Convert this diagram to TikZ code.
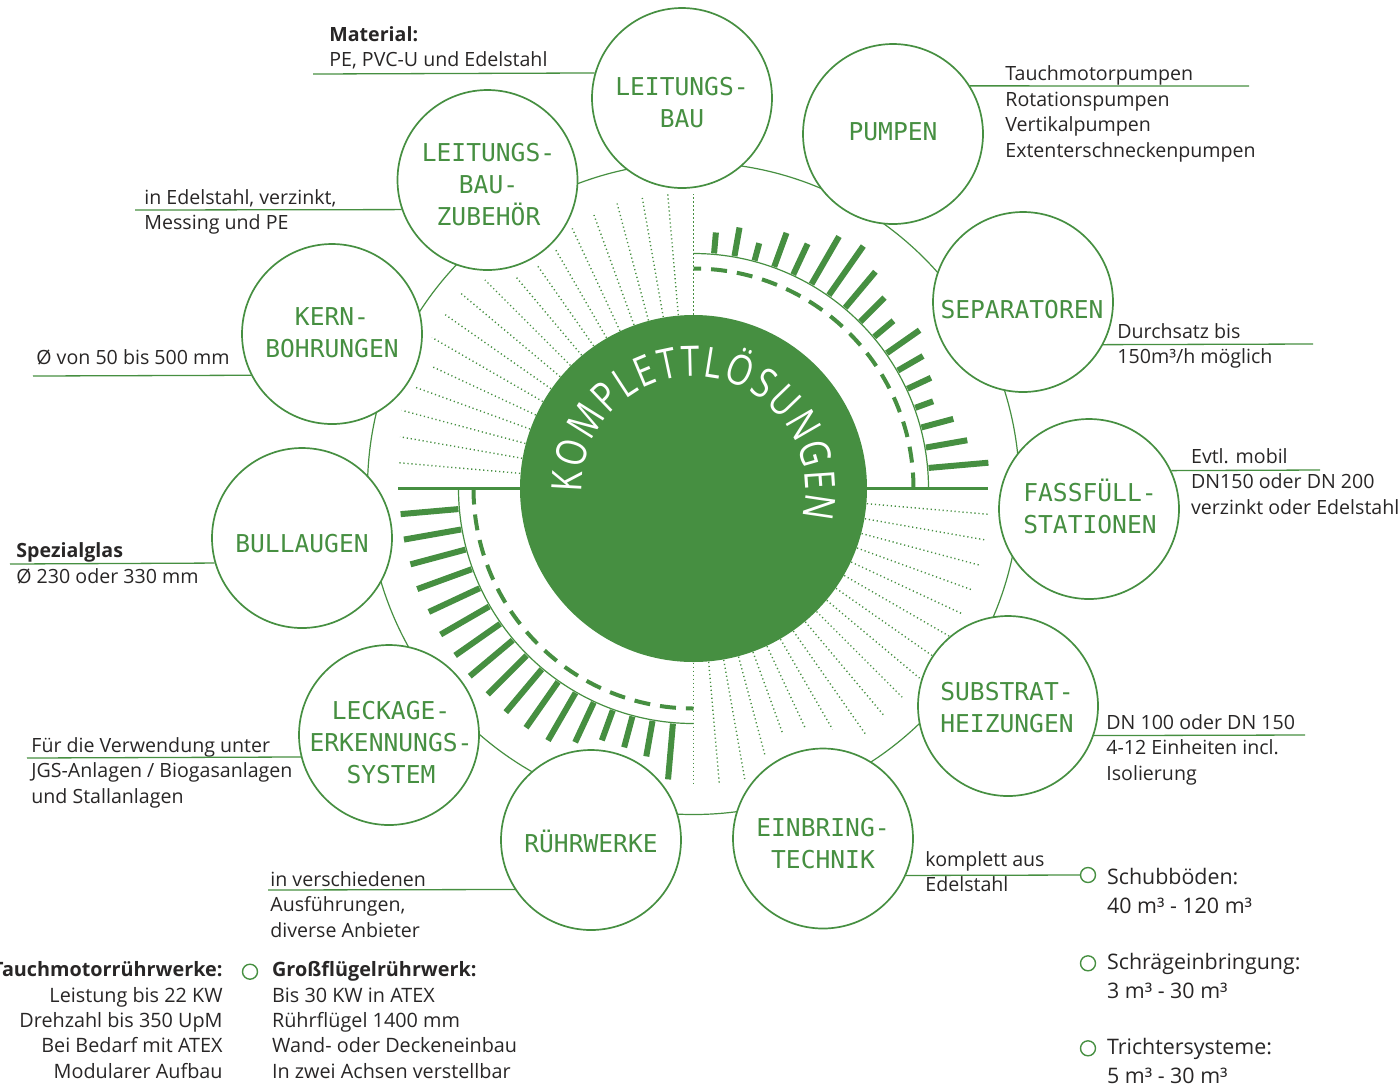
\documentclass[tikz,border=0pt]{standalone}
\usepackage{fontspec}
\setmainfont{Open Sans}
\newfontfamily\monofont{DejaVu Sans Mono}
\newfontfamily\arcfont[FakeStretch=0.8]{Open Sans}
\usetikzlibrary{calc,decorations.text}
\definecolor{kgreen}{RGB}{70,143,65}
\definecolor{ink}{RGB}{40,38,38}
\def\spoke[#1](#2)(#3:#4:#5){\draw[#1] ($(#2)+(#3:#4)$) -- ($(#2)+(#3:#5)$);}

\tikzset{
  sat/.style={circle, draw=kgreen, fill=white, line width=0.85pt, minimum size=90pt, inner sep=0pt},
  satlabel/.style={align=center, inner sep=0pt, text=kgreen, font=\monofont\fontsize{12.3}{16}\selectfont},
  lead/.style={draw=kgreen, line width=0.65pt},
  note/.style={anchor=base west, align=left, inner sep=0pt, text=ink, font=\fontsize{9.8}{12.75}\selectfont},
  bignote/.style={note, font=\fontsize{10.7}{14.5}\selectfont},
  bullet/.style={circle, draw=kgreen, line width=0.7pt, minimum size=7.5pt, inner sep=0pt},
  dotspoke/.style={kgreen, line width=0.7pt, dash pattern=on 0.6pt off 1.4pt},
  barspoke/.style={kgreen, line width=3pt},
}

\begin{document}
\begin{tikzpicture}[x=0.5pt, y=0.5pt]
	%%%%% START %%%%%
	\useasboundingbox (0,0) rectangle (1399,-1084);
	\coordinate (c) at (693.5,-488.5);

	\draw[kgreen, line width=0.6pt] (c) circle (326);

	% dotted spokes
	\foreach \a/\r in {90/295, 95/296, 100/295, 105/295, 110/291, 115/287, 120/277, 125/272, 130/277,
		135/295, 140/304, 145/303, 150/302, 155/289, 160/296, 165/302, 170/298, 175/297}
		{\spoke[dotspoke](c)(\a:170:\r)}
	\foreach \a/\r in {270/295, 275/296, 280/295, 285/277, 290/261, 295/265, 300/278, 305/301, 310/297,
		315/296, 320/295, 325/291, 330/295, 335/296, 340/296, 345/296, 350/296, 355/296}
		{\spoke[dotspoke](c)(\a:170:\r)}

	% bars
	\draw[kgreen, line width=0.6pt] ($(c)+(0:235)$) arc (0:90:235);
	\draw[kgreen, line width=0.6pt] ($(c)+(180:235)$) arc (180:270:235);
	\draw[kgreen, line width=2pt, dash pattern=on 8pt off 5pt] ($(c)+(0:220)$) arc (0:90:220);
	\draw[kgreen, line width=2pt, dash pattern=on 8pt off 5pt] ($(c)+(180:220)$) arc (180:270:220);
	\foreach \a/\r in {85/257, 80/265, 75/254, 70/272, 65/270, 60/291, 55/296, 50/283, 45/270,
		40/261, 35/276, 30/265, 25/262, 20/255, 15/269, 10/278, 5/296}
		{\spoke[barspoke](c)(\a:236:\r)}
	\foreach \a/\r in {185/294, 190/294, 195/293, 200/294, 205/292, 210/292, 215/291, 220/292, 225/291,
		230/292, 235/292, 240/291, 245/280, 250/268, 255/268, 260/272, 265/292}
		{\spoke[barspoke](c)(\a:236:\r)}

	\node[circle, fill=kgreen, minimum size=173.5pt, inner sep=0pt] (core) at (c) {};
	\path[decorate, decoration={text along path, text color=white, text align=fit to path,
		text={|\arcfont\fontsize{21}{22}\selectfont|KOMPLETTLÖSUNGEN}}]
		($(c)+(182:112)$) arc (182:-15:112);

	\coordinate (re) at (988,-488.5);
	\coordinate (le) at (398,-488.5);
	\draw[kgreen, line width=1.8pt] (core.east) -- (re);
	\draw[kgreen, line width=1.8pt] (le) -- (core.west);

	% satellites
	\node[sat] (lb) at (682,-98) {};
	\node[satlabel] (lbl) at ($(lb)+(0,-4.5)$) {LEITUNGS-\\BAU};
	\node[sat] (pump) at (893,-134) {};
	\node[satlabel] (pumpl) at ($(pump)+(0,2)$) {PUMPEN};
	\node[sat] (sep) at (1023,-302) {};
	\node[satlabel] (sepl) at ($(sep)+(-1,-8)$) {SEPARATOREN};
	\node[sat] (fass) at (1089,-509) {};
	\node[satlabel] (fassl) at ($(fass)+(1,3)$) {FASSFÜLL-\\STATIONEN};
	\node[sat] (sub) at (1008,-706) {};
	\node[satlabel] (subl) at ($(sub)+(-1,-1.5)$) {SUBSTRAT-\\HEIZUNGEN};
	\node[sat] (einb) at (823,-838.5) {};
	\node[satlabel] (einbl) at ($(einb)+(0,-5.5)$) {EINBRING-\\TECHNIK};
	\node[sat] (ruehr) at (591,-840) {};
	\node[satlabel] (ruehrl) at ($(ruehr)+(0,-1)$) {RÜHRWERKE};
	\node[sat] (leck) at (389,-735) {};
	\node[satlabel] (leckl) at ($(leck)+(2,-7.5)$) {LECKAGE-\\ERKENNUNGS-\\SYSTEM};
	\node[sat] (bull) at (302,-538) {};
	\node[satlabel] (bulll) at ($(bull)+(0,-5.5)$) {BULLAUGEN};
	\node[sat] (kern) at (332,-334) {};
	\node[satlabel] (kernl) at ($(kern)+(0,1.5)$) {KERN-\\BOHRUNGEN};
	\node[sat] (lbz) at (487.5,-180) {};
	\node[satlabel] (lbzl) at ($(lbz)+(1,-4.5)$) {LEITUNGS-\\BAU-\\ZUBEHÖR};

	% notes
	\node[note] (matl) at (329,-66.7) {\textbf{Material:}\\PE, PVC-U und Edelstahl};
	\coordinate (matle) at (313,-74);
	\draw[lead] (matle) -- (lb.164.5);

	\node[note] (lbzt) at (144,-229.5) {in Edelstahl, verzinkt,\\Messing und PE};
	\coordinate (lbze) at (135,-210);
	\draw[lead] (lbze) -- (lbz.199.5);

	\node[note] (kernt) at (36,-364) {Ø von 50 bis 500 mm};
	\coordinate (kerne) at (33,-376);
	\draw[lead] (kerne) -- (kern.207.8);

	\node[note] (bullt) at (16,-583.3) {\textbf{Spezialglas}\\Ø 230 oder 330 mm};
	\coordinate (bulle) at (10,-564);
	\draw[lead] (bulle) -- (bull.196.8);

	\node[note] (leckt) at (31,-803.3) {Für die Verwendung unter\\JGS-Anlagen / Biogasanlagen\\und Stallanlagen};
	\coordinate (lecke) at (27,-758);
	\draw[lead] (lecke) -- (leck.194.8);

	\node[note] (ruehrt) at (270,-937) {in verschiedenen\\Ausführungen,\\diverse Anbieter};
	\coordinate (ruehre) at (268,-890);
	\draw[lead] (ruehre) -- (ruehr.213.7);

	\node[note] (einbt) at (925,-891.5) {komplett aus\\Edelstahl};
	\node[bullet] (o1) at (1088,-875) {};
	\draw[lead] (einb.336) -- (o1.west);

	\node[note] (subt) at (1106,-780) {DN 100 oder DN 150\\4-12 Einheiten incl.\\Isolierung};
	\coordinate (sube) at (1305,-735);
	\draw[lead] (sub.341.2) -- (sube);

	\node[note] (fasst) at (1190.7,-514.3) {Evtl. mobil\\DN150 oder DN 200\\verzinkt oder Edelstahl};
	\coordinate (fasse) at (1320,-470);
	\draw[lead] (fass.25.7) -- (fasse);

	\node[note] (sept) at (1117,-363.8) {Durchsatz bis\\150m³/h möglich};
	\coordinate (sepe) at (1313,-344);
	\draw[lead] (sep.332.2) -- (sepe);

	\node[note] (pumpt) at (1005,-157.2) {Tauchmotorpumpen\\Rotationspumpen\\Vertikalpumpen\\Extenterschneckenpumpen};
	\coordinate (pumpe) at (1249,-86);
	\draw[lead] (pump.32.2) -- (pumpe);

	% list
	\node[bignote] (schub) at (1106.7,-913.3) {Schubböden:\\40 m³ - 120 m³};
	\node[bullet] (o2) at (1088,-963.3) {};
	\node[bignote] (schraeg) at (1106.7,-998) {Schrägeinbringung:\\3 m³ - 30 m³};
	\node[bullet] (o3) at (1088,-1048.3) {};
	\node[bignote] (trichter) at (1106.7,-1083) {Trichtersysteme:\\5 m³ - 30 m³};

	\node[note, anchor=base east, align=right, font=\fontsize{9.9}{12.7}\selectfont] (tauch) at (223,-1078.3)
		{\textbf{Tauchmotorrührwerke:}\\Leistung bis 22 KW\\Drehzahl bis 350 UpM\\Bei Bedarf mit ATEX\\Modularer Aufbau};
	\node[bullet] (o4) at (250,-971.7) {};
	\node[note, font=\fontsize{9.9}{12.7}\selectfont] (gross) at (271.7,-1078.3)
		{\textbf{Großflügelrührwerk:}\\Bis 30 KW in ATEX\\Rührflügel 1400 mm\\Wand- oder Deckeneinbau\\In zwei Achsen verstellbar};
	%%%%% END %%%%%
\end{tikzpicture}
\end{document}
